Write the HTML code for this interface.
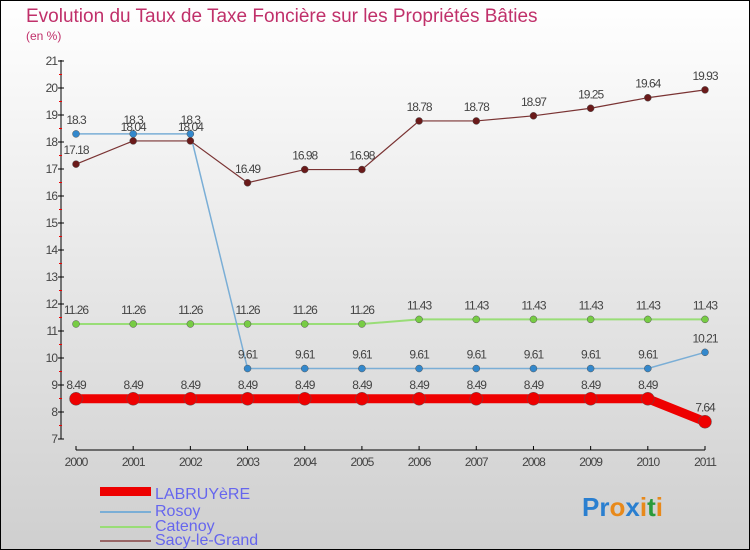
<!DOCTYPE html>
<html><head><meta charset="utf-8"><style>
body{margin:0;}
#c{position:relative;width:750px;height:550px;overflow:hidden;}
text{font-family:"Liberation Sans",sans-serif;}
</style></head><body>
<div id="c">
<svg id="s" width="750" height="550" xmlns="http://www.w3.org/2000/svg">
<defs><linearGradient id="bg" x1="0" y1="0" x2="0" y2="1"><stop offset="0" stop-color="#ffffff"/><stop offset="1" stop-color="#cfcfcf"/></linearGradient></defs>
<rect x="0.5" y="0.5" width="749" height="549" fill="url(#bg)" stroke="#000"/>
<text x="26" y="22" font-size="19" fill="#c0306a">Evolution du Taux de Taxe Foncière sur les Propriétés Bâties</text>
<text x="26" y="40" font-size="12" fill="#c0306a">(en %)</text>
<g id="axes"></g><g id="series"></g>
<g>
<rect x="100" y="487" width="51" height="9" fill="#e00"/>
<text x="155" y="499" font-size="16" fill="#6666ee">LABRUYèRE</text>
<line x1="100" y1="512" x2="151" y2="512" stroke="#7aaed6" stroke-width="2"/>
<text x="155" y="516" font-size="16" fill="#6666ee">Rosoy</text>
<line x1="100" y1="527" x2="151" y2="527" stroke="#99dd77" stroke-width="2"/>
<text x="155" y="531" font-size="16" fill="#6666ee">Catenoy</text>
<line x1="100" y1="541" x2="151" y2="541" stroke="#996666" stroke-width="2"/>
<text x="155" y="545" font-size="16" fill="#6666ee">Sacy-le-Grand</text>
</g>
<text x="582" y="516" font-size="26" font-weight="bold"><tspan fill="#2a7fd0">Pr</tspan><tspan fill="#e8891a">o</tspan><tspan fill="#2a7fd0">x</tspan><tspan fill="#e8891a">i</tspan><tspan fill="#2a9a3a">t</tspan><tspan fill="#e8891a">i</tspan></text>
</svg></div>
<script>
const years=[2000,2001,2002,2003,2004,2005,2006,2007,2008,2009,2010,2011];
const labruyere=[8.49,8.49,8.49,8.49,8.49,8.49,8.49,8.49,8.49,8.49,8.49,7.64];
const rosoy=[18.3,18.3,18.3,9.61,9.61,9.61,9.61,9.61,9.61,9.61,9.61,10.21];
const catenoy=[11.26,11.26,11.26,11.26,11.26,11.26,11.43,11.43,11.43,11.43,11.43,11.43];
const sacy=[17.18,18.04,18.04,16.49,16.98,16.98,18.78,18.78,18.97,19.25,19.64,19.93];
const yTicks=[7,8,9,10,11,12,13,14,15,16,17,18,19,20,21];
const NS="http://www.w3.org/2000/svg";
const X=i=>76+i*(705-76)/11;
const Y=v=>439-(v-7)*27;
function mk(p,t,a){const e=document.createElementNS(NS,t);for(const k in a)e.setAttribute(k,a[k]);p.appendChild(e);return e;}
const ax=document.getElementById('axes');
let l=mk(ax,'line',{x1:61,y1:Y(21)-1,x2:61,y2:Y(7),stroke:'#000'});


yTicks.forEach(v=>{
 mk(ax,'line',{x1:58,y1:Y(v),x2:64,y2:Y(v),stroke:'#000'});
 if(v<21) mk(ax,'line',{x1:59,y1:Y(v+0.5),x2:62,y2:Y(v+0.5),stroke:'#e00'});
 const t=mk(ax,'text',{x:57,y:Y(v)+4,'font-size':12,'text-anchor':'end',fill:'#444','letter-spacing':'-1'});
 t.textContent=v;
 
 
});
l=mk(ax,'line',{x1:X(0),y1:450,x2:X(11),y2:450,stroke:'#000'});


years.forEach((y,i)=>{
 mk(ax,'line',{x1:X(i),y1:446,x2:X(i),y2:450,stroke:'#000'});
 const t=mk(ax,'text',{x:X(i),y:466,'font-size':12,'text-anchor':'middle',fill:'#444','letter-spacing':'-1'});
 t.textContent=y;
 
 
});
const sg=document.getElementById('series');
function series(name,vals,col,dot,w,r){
 const g=mk(sg,'g',{});
 
 
 mk(g,'polyline',{points:vals.map((v,i)=>X(i)+','+Y(v)).join(' '),fill:'none',stroke:col,'stroke-width':w});
 vals.forEach((v,i)=>{
  const c=mk(g,'circle',{cx:X(i),cy:Y(v),r:r,fill:dot,stroke:'#555','stroke-width':0.5});
  
  
  const t=mk(g,'text',{x:X(i),y:Y(v)-10,'font-size':12,'text-anchor':'middle',fill:'#444','letter-spacing':'-1'});
  t.textContent=v;
  
  
 });
}
series('catenoy',catenoy,'#99dd77','#77cc44',2,3.5);
series('rosoy',rosoy,'#7aaed6','#3388cc',1.5,3.5);
series('sacy-le-grand',sacy,'#7a3333','#6a1a1a',1.2,3.5);
series('labruyere',labruyere,'#ee0000','#ee0000',9,6.5);
</script>
</body></html>
